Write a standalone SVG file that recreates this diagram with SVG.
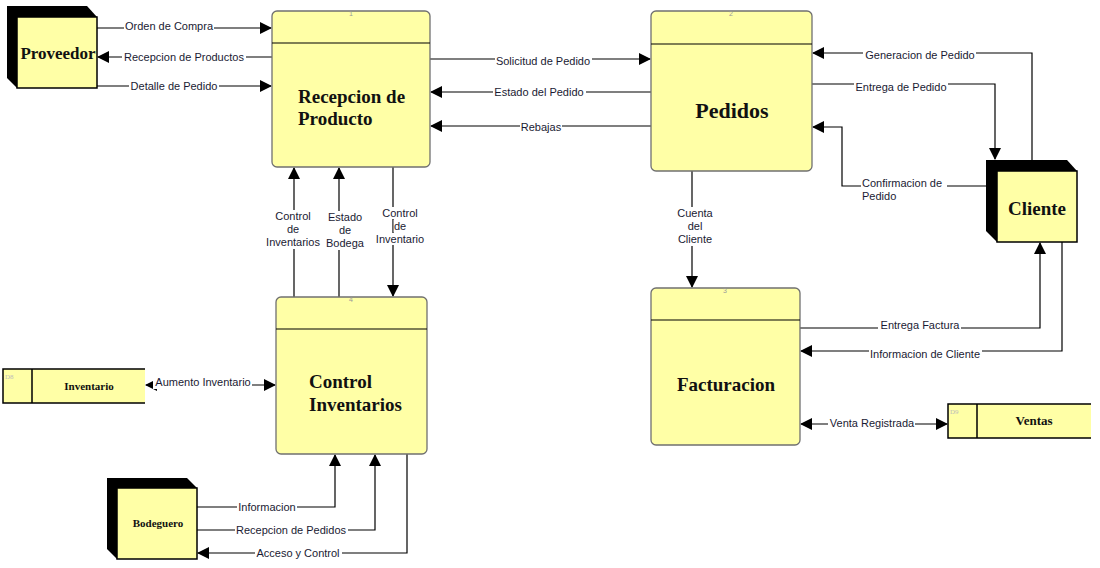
<svg xmlns="http://www.w3.org/2000/svg" width="1100" height="568" viewBox="0 0 1100 568">
<style>
.proc{fill:#FFFFA6;stroke:#707070;stroke-width:1.3}
.div{stroke:#000;stroke-width:1.2}
.ent{fill:#FFFFA6;stroke:#000;stroke-width:1.5}
.shadow{fill:#000}
.store{fill:#FFFFA6}
.sl{stroke:#000;stroke-width:1.5;fill:none}
.num{font-family:"Liberation Sans",Arial,sans-serif;font-size:7px;fill:#999;text-anchor:middle}
.dnum{font-family:"Liberation Serif",serif;font-size:7px;fill:#bbb}
.nt{font-family:"Liberation Serif","Times New Roman",serif;font-weight:bold;fill:#111}
.c{text-anchor:middle}
.ln{stroke:#000;stroke-width:1.2;fill:none}
.lbl{font-family:"Liberation Sans",Arial,sans-serif;font-size:11px;fill:#1a1a33;text-anchor:middle}
.lbll{font-family:"Liberation Sans",Arial,sans-serif;font-size:11px;fill:#1a1a33}
.bg{fill:#fff}
</style>
<defs>
<marker id="ah" markerUnits="userSpaceOnUse" markerWidth="12" markerHeight="12" viewBox="0 0 12 12" refX="11" refY="6" orient="auto">
<path d="M0,0 L12,6 L0,12 z" fill="#000"/>
</marker>
<marker id="as" markerUnits="userSpaceOnUse" markerWidth="12" markerHeight="12" viewBox="0 0 12 12" refX="1" refY="6" orient="auto">
<path d="M12,0 L0,6 L12,12 z" fill="#000"/>
</marker>
</defs>
<rect width="1100" height="568" fill="#fff"/>

<g id="connectors">
<path class="ln" d="M97,28 H271" marker-end="url(#ah)"/>
<path class="ln" d="M272,57 H98" marker-end="url(#ah)"/>
<path class="ln" d="M97,86 H271" marker-end="url(#ah)"/>
<path class="ln" d="M430,59 H650" marker-end="url(#ah)"/>
<path class="ln" d="M651,92 H431" marker-end="url(#ah)"/>
<path class="ln" d="M651,126 H431" marker-end="url(#ah)"/>
<path class="ln" d="M1032,160 V53 H813" marker-end="url(#ah)"/>
<path class="ln" d="M812,84 H995 V159" marker-end="url(#ah)"/>
<path class="ln" d="M986,186 H842 V127 H813" marker-end="url(#ah)"/>
<path class="ln" d="M692,171 V287" marker-end="url(#ah)"/>
<path class="ln" d="M800,328 H1040 V243" marker-end="url(#ah)"/>
<path class="ln" d="M1062,242 V351 H801" marker-end="url(#ah)"/>
<path class="ln" d="M801,424 H947" marker-start="url(#as)" marker-end="url(#ah)"/>
<path class="ln" d="M294,297 V168" marker-end="url(#ah)"/>
<path class="ln" d="M339,297 V168" marker-end="url(#ah)"/>
<path class="ln" d="M393,167 V296" marker-end="url(#ah)"/>
<path class="ln" d="M146,385 H275" marker-start="url(#as)" marker-end="url(#ah)"/>
<path class="ln" d="M197,507 H335 V455" marker-end="url(#ah)"/>
<path class="ln" d="M197,530 H375 V455" marker-end="url(#ah)"/>
<path class="ln" d="M407,454 V553 H198" marker-end="url(#ah)"/>

<rect class="bg" x="124" y="20" width="90" height="13"/>
<text class="lbl" x="169" y="30">Orden de Compra</text>
<rect class="bg" x="122" y="51" width="124" height="13"/>
<text class="lbl" x="184" y="61">Recepcion de Productos</text>
<rect class="bg" x="129" y="80" width="90" height="13"/>
<text class="lbl" x="174" y="90">Detalle de Pedido</text>
<rect class="bg" x="495" y="55" width="97" height="13"/>
<text class="lbl" x="543" y="65">Solicitud de Pedido</text>
<rect class="bg" x="493" y="86" width="93" height="13"/>
<text class="lbl" x="539" y="96">Estado del Pedido</text>
<rect class="bg" x="520" y="121" width="42" height="13"/>
<text class="lbl" x="541" y="131">Rebajas</text>
<rect class="bg" x="863" y="49" width="113" height="13"/>
<text class="lbl" x="920" y="59">Generacion de Pedido</text>
<rect class="bg" x="854" y="81" width="94" height="13"/>
<text class="lbl" x="901" y="91">Entrega de Pedido</text>
<rect class="bg" x="861" y="177" width="86" height="13"/>
<text class="lbll" x="862" y="187">Confirmacion de</text>
<text class="lbll" x="862" y="200">Pedido</text>
<rect class="bg" x="676" y="207" width="38" height="39"/>
<text class="lbl" x="695" y="217">Cuenta</text>
<text class="lbl" x="695" y="230">del</text>
<text class="lbl" x="695" y="243">Cliente</text>
<rect class="bg" x="265" y="210" width="56" height="39"/>
<text class="lbl" x="293" y="220">Control</text>
<text class="lbl" x="293" y="233">de</text>
<text class="lbl" x="293" y="246">Inventarios</text>
<rect class="bg" x="326" y="211" width="38" height="39"/>
<text class="lbl" x="345" y="221">Estado</text>
<text class="lbl" x="345" y="234">de</text>
<text class="lbl" x="345" y="247">Bodega</text>
<rect class="bg" x="381" y="207" width="38" height="12"/>
<rect class="bg" x="393.7" y="220" width="13" height="12"/>
<rect class="bg" x="374" y="233" width="52" height="12"/>
<text class="lbl" x="400" y="217">Control</text>
<text class="lbl" x="400" y="230">de</text>
<text class="lbl" x="400" y="243">Inventario</text>
<rect class="bg" x="153" y="376" width="99" height="13"/>
<text class="lbl" x="203" y="386">Aumento Inventario</text>
<rect class="bg" x="237" y="501" width="60" height="13"/>
<text class="lbl" x="267" y="511">Informacion</text>
<rect class="bg" x="235" y="524" width="113" height="13"/>
<text class="lbl" x="291" y="534">Recepcion de Pedidos</text>
<rect class="bg" x="255" y="547" width="87" height="13"/>
<text class="lbl" x="298" y="557">Acceso y Control</text>
<rect class="bg" x="878" y="319" width="83" height="13"/>
<text class="lbl" x="920" y="329">Entrega Factura</text>
<rect class="bg" x="869" y="348" width="113" height="13"/>
<text class="lbl" x="925" y="358">Informacion de Cliente</text>
<rect class="bg" x="828" y="417" width="87" height="13"/>
<text class="lbl" x="872" y="427">Venta Registrada</text>
</g>

<g id="proveedor">
<polygon class="shadow" points="7,6 87,6 97,17 97,88 17,88 7,78"/>
<rect class="ent" x="17" y="17" width="80" height="71"/>
<text class="nt c" x="58" y="59" font-size="17">Proveedor</text>
</g>

<g id="recepcion">
<rect class="proc" x="272" y="11" width="158" height="156" rx="5"/>
<line class="div" x1="272" y1="43" x2="430" y2="43"/>
<text class="num" x="351" y="16">1</text>
<text class="nt" x="298" y="103" font-size="19">Recepcion de</text>
<text class="nt" x="298" y="125" font-size="19">Producto</text>
</g>

<g id="pedidos">
<rect class="proc" x="651" y="11" width="161" height="160" rx="5"/>
<line class="div" x1="651" y1="44" x2="812" y2="44"/>
<text class="num" x="731" y="16">2</text>
<text class="nt c" x="732" y="118" font-size="22">Pedidos</text>
</g>

<g id="cliente">
<polygon class="shadow" points="986,160 1067,160 1077,171 1077,242 997,242 986,231"/>
<rect class="ent" x="997" y="171" width="80" height="71"/>
<text class="nt c" x="1037" y="215" font-size="19">Cliente</text>
</g>

<g id="facturacion">
<rect class="proc" x="651" y="288" width="149" height="157" rx="5"/>
<line class="div" x1="651" y1="320" x2="800" y2="320"/>
<text class="num" x="725" y="293">3</text>
<text class="nt c" x="726" y="391" font-size="19">Facturacion</text>
</g>

<g id="control-inventarios">
<rect class="proc" x="276" y="297" width="151" height="157" rx="5"/>
<line class="div" x1="276" y1="329" x2="427" y2="329"/>
<text class="num" x="351" y="302">4</text>
<text class="nt" x="309" y="388" font-size="19">Control</text>
<text class="nt" x="309" y="411" font-size="19">Inventarios</text>
</g>

<g id="inventario">
<rect class="store" x="3" y="369" width="142" height="34"/>
<path class="sl" d="M145,369 H3 V403 H145 M32,369 V403"/>
<text class="dnum" x="5" y="379">D8</text>
<text class="nt c" x="89" y="390" font-size="11">Inventario</text>
</g>

<g id="ventas">
<rect class="store" x="948" y="404" width="143" height="34"/>
<path class="sl" d="M1091,404 H948 V438 H1091 M977,404 V438"/>
<text class="dnum" x="950" y="414">D9</text>
<text class="nt c" x="1034" y="425" font-size="13">Ventas</text>
</g>

<g id="bodeguero">
<polygon class="shadow" points="107,478 187,478 197,488 197,559 117,559 107,549"/>
<rect class="ent" x="117" y="488" width="80" height="71"/>
<text class="nt c" x="158" y="527" font-size="11">Bodeguero</text>
</g>
</svg>
